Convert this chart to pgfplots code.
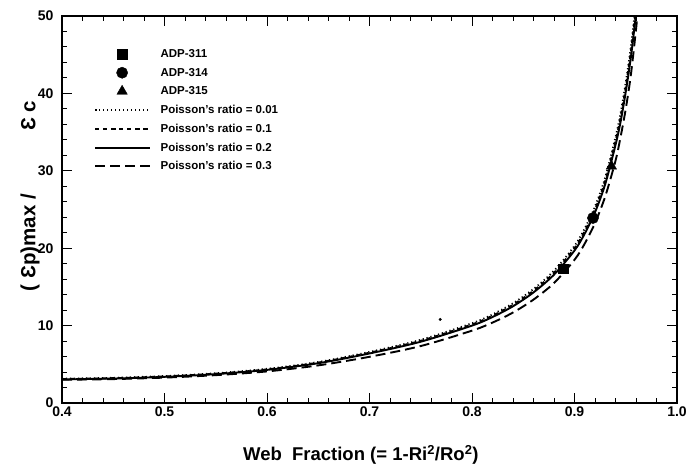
\documentclass[border=0pt]{standalone}
\usepackage{fontspec}
\setmainfont{Liberation Sans}
\usepackage{pgfplots}
\pgfplotsset{compat=1.18}
\begin{document}
\begin{tikzpicture}
\begin{axis}[name=ax, scale only axis, width=615pt, height=387pt,
  xmin=0.4, xmax=1.0, ymin=0, ymax=50,
  xtick={0.4,0.5,0.6,0.7,0.8,0.9,1.0}, ytick={0,10,20,30,40,50},
  minor x tick num=4, minor y tick num=4,
  tick align=inside, major tick length=10pt, minor tick length=5pt,
  axis line style={line width=1.6pt},
  every tick/.style={line width=1pt, black},
  /pgf/number format/assume math mode=true,
  ticklabel style={font=\bfseries\fontsize{14}{16}\selectfont},
  yticklabel style={xshift=-5pt},
  xticklabel style={/pgf/number format/.cd, fixed, fixed zerofill, precision=1},
  xlabel={Web\ \ Fraction (= 1-Ri\textsuperscript{2}/Ro\textsuperscript{2})},
  xlabel style={font=\bfseries\fontsize{18.5}{20}\selectfont, at={(axis description cs:0.486,-0.135)}, anchor=center},
  ylabel={( Ɛp)max /\hspace{3.1em}Ɛ c},
  ylabel style={font=\bfseries\fontsize{20.5}{22}\selectfont, at={(axis description cs:-0.052,0.535)}, anchor=center, rotate=0},
  legend style={draw=none, fill=none, at={(axis description cs:0.052,0.918)}, anchor=north west,
    font=\bfseries\fontsize{11.5}{13}\selectfont, row sep=6pt, column sep=8pt, inner sep=0pt,
    nodes={inner sep=1.5pt}},
  legend cell align=left,
  legend image code/.code={\draw[mark repeat=2, mark phase=2, #1] plot coordinates {(0pt,0pt) (27pt,0pt) (55pt,0pt)};},
]
\addplot[only marks, mark=square*, mark size=4.6pt, black] coordinates {(0.889,17.4)};
\addlegendentry{ADP-311}
\addplot[only marks, mark=*, mark size=5.6pt, black] coordinates {(0.918,23.9)};
\addlegendentry{ADP-314}
\addplot[only marks, mark=triangle*, mark size=6pt, black] coordinates {(0.936,30.6)};
\addlegendentry{ADP-315}
\addplot[black, line width=1.9pt, dash pattern=on 1.2pt off 2.8pt, smooth] coordinates {
(0.40,3.14) (0.45,3.25) (0.50,3.48) (0.55,3.84) (0.60,4.41) (0.65,5.29) (0.70,6.59) (0.75,8.16) (0.80,10.3) (0.82,11.44) (0.84,12.88) (0.86,14.72) (0.88,17.08) (0.90,20.29) (0.91,22.55) (0.92,25.37) (0.93,29.14) (0.94,34.33) (0.945,37.45) (0.95,41.4) (0.955,46.0) (0.96,51.76) (0.962,54.5)};
\addlegendentry{Poisson's ratio = 0.01}
\addplot[black, line width=1.9pt, dash pattern=on 4pt off 4pt, smooth] coordinates {
(0.40,3.10) (0.45,3.21) (0.50,3.43) (0.55,3.79) (0.60,4.34) (0.65,5.22) (0.70,6.50) (0.75,8.04) (0.80,10.15) (0.82,11.28) (0.84,12.69) (0.86,14.50) (0.88,16.83) (0.90,20.0) (0.91,22.22) (0.92,25.0) (0.93,28.71) (0.94,33.83) (0.945,36.9) (0.95,40.8) (0.955,45.34) (0.96,51.0) (0.962,53.7)};
\addlegendentry{Poisson's ratio = 0.1}
\addplot[black, line width=1.9pt, smooth] coordinates {
(0.40,3.05) (0.45,3.16) (0.50,3.38) (0.55,3.73) (0.60,4.28) (0.65,5.14) (0.70,6.40) (0.75,7.92) (0.80,10.0) (0.82,11.11) (0.84,12.5) (0.86,14.29) (0.88,16.58) (0.90,19.7) (0.91,21.89) (0.92,24.63) (0.93,28.29) (0.94,33.33) (0.945,36.36) (0.95,40.2) (0.955,44.67) (0.96,50.25) (0.962,52.9)};
\addlegendentry{Poisson's ratio = 0.2}
\addplot[black, line width=1.9pt, dash pattern=on 10pt off 5pt, smooth] coordinates {
(0.40,3.0) (0.45,3.09) (0.50,3.28) (0.55,3.6) (0.60,4.08) (0.65,4.86) (0.70,5.97) (0.75,7.36) (0.80,9.35) (0.82,10.39) (0.84,11.69) (0.86,13.36) (0.88,15.5) (0.90,18.5) (0.91,20.6) (0.92,23.25) (0.93,26.7) (0.94,31.3) (0.945,34.4) (0.95,38.0) (0.955,42.4) (0.96,48.25) (0.962,51.05) (0.964,54.2)};
\addlegendentry{Poisson's ratio = 0.3}
\addplot[only marks, mark=*, mark size=1.3pt, black, forget plot] coordinates {(0.769,10.8)};
\end{axis}
\pgfresetboundingbox
\path[use as bounding box] ([xshift=-62pt,yshift=-66pt]ax.south west) rectangle ([xshift=628pt,yshift=403pt]ax.south west);
\end{tikzpicture}
\end{document}
